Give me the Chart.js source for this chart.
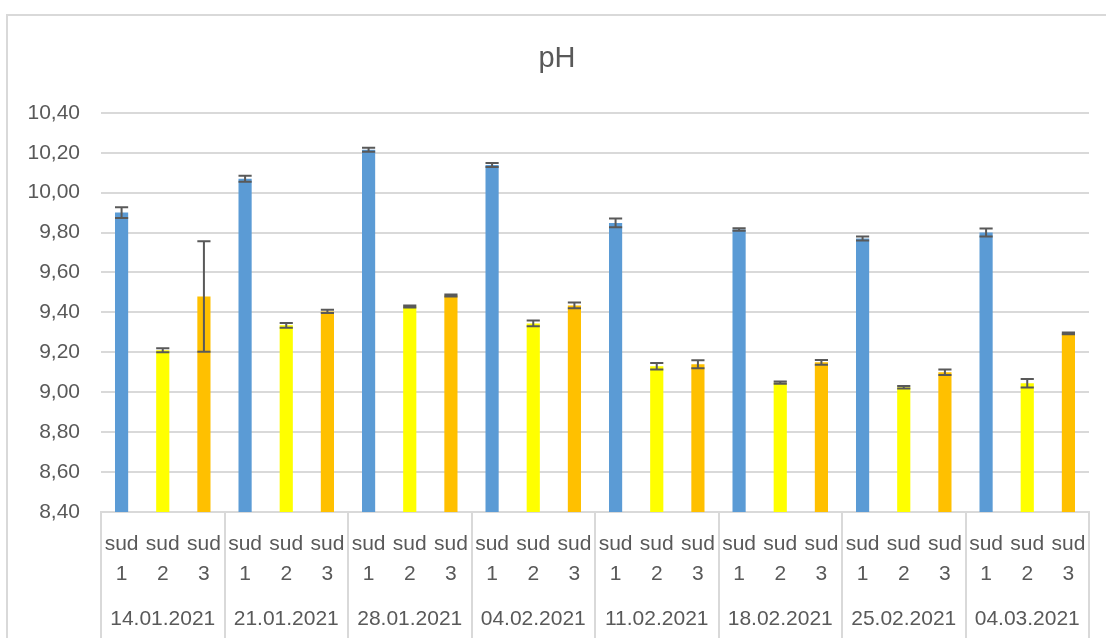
<!DOCTYPE html>
<html>
<head>
<meta charset="utf-8">
<script src="https://cdn.jsdelivr.net/npm/chart.js@4/dist/chart.umd.min.js"></script>
<style>
    html, body { margin: 0; padding: 0; background: #fff; overflow: hidden; }
    #wrap { width: 1122px; height: 638px; }
</style>
</head>
<body>
<div id="wrap"><canvas id="phChart" width="1122" height="638"></canvas></div>
<script>
// Data
const dates = ['14.01.2021', '21.01.2021', '28.01.2021', '04.02.2021', '11.02.2021', '18.02.2021', '25.02.2021', '04.03.2021'];
const sites = ['sud 1', 'sud 2', 'sud 3'];
const phValues = [
    9.90, 9.21, 9.48,
    10.07, 9.335, 9.405,
    10.215, 9.43, 9.485,
    10.138, 9.345, 9.435,
    9.848, 9.13, 9.14,
    9.815, 9.048, 9.15,
    9.77, 9.025, 9.10,
    9.80, 9.045, 9.295
];
const phErrors = [
    0.027, 0.010, 0.277,
    0.015, 0.012, 0.008,
    0.010, 0.005, 0.005,
    0.010, 0.015, 0.014,
    0.022, 0.016, 0.020,
    0.006, 0.006, 0.012,
    0.010, 0.006, 0.014,
    0.020, 0.021, 0.004
];
const siteColors = ['#5B9BD5', '#FFFF00', '#FFC000'];
const yMin = 8.4, yMax = 10.4, yStep = 0.2;

const labels = dates.flatMap(() => sites.map(s => s.split(' ')));
const barColors = dates.flatMap(() => siteColors);

const gridColor = '#d9d9d9';
const textColor = '#595959';
const fontFamily = '"Liberation Sans", Arial, sans-serif';

// Outer chart frame
const framePlugin = {
    id: 'frame',
    beforeDraw(chart) {
        const ctx = chart.ctx;
        ctx.save();
        ctx.strokeStyle = gridColor;
        ctx.lineWidth = 2;
        ctx.strokeRect(7, 15, chart.width + 20, chart.height + 20);
        ctx.restore();
    }
};

// Group separators under the category axis
const separatorPlugin = {
    id: 'separators',
    afterDraw(chart) {
        const xs = chart.scales.x;
        const ctx = chart.ctx;
        ctx.save();
        ctx.strokeStyle = gridColor;
        ctx.lineWidth = 2;
        for (let i = 0; i <= dates.length; i++) {
            const px = Math.round(xs.left + i * xs.width / dates.length);
            ctx.beginPath();
            ctx.moveTo(px, xs.top);
            ctx.lineTo(px, chart.height);
            ctx.stroke();
        }
        ctx.restore();
    }
};

// Error bars
const errorBarPlugin = {
    id: 'errorBars',
    afterDatasetsDraw(chart) {
        const ys = chart.scales.y;
        const meta = chart.getDatasetMeta(0);
        const ctx = chart.ctx;
        ctx.save();
        ctx.strokeStyle = textColor;
        ctx.lineWidth = 2;
        meta.data.forEach(function(bar, i) {
            const v = phValues[i], e = phErrors[i];
            const top = ys.getPixelForValue(v + e);
            const bot = ys.getPixelForValue(v - e);
            const half = bar.width / 2;
            ctx.beginPath();
            ctx.moveTo(bar.x, top);
            ctx.lineTo(bar.x, bot);
            ctx.moveTo(bar.x - half, top);
            ctx.lineTo(bar.x + half, top);
            ctx.moveTo(bar.x - half, bot);
            ctx.lineTo(bar.x + half, bot);
            ctx.stroke();
        });
        ctx.restore();
    }
};

new Chart(document.getElementById('phChart').getContext('2d'), {
    type: 'bar',
    data: {
        labels: labels,
        datasets: [{
            label: 'pH',
            data: phValues,
            backgroundColor: barColors,
            borderWidth: 0,
            categoryPercentage: 1,
            barPercentage: 0.32
        }]
    },
    options: {
        responsive: false,
        animation: false,
        layout: { padding: { top: 20, left: 25, right: 33, bottom: 0 } },
        plugins: {
            legend: { display: false },
            tooltip: { enabled: false },
            title: {
                display: true,
                text: 'pH',
                color: textColor,
                font: { family: fontFamily, size: 29, weight: 'normal' },
                padding: { top: 22, bottom: 36 }
            }
        },
        scales: {
            y: {
                min: yMin,
                max: yMax,
                afterFit(scale) { scale.width = 76; },
                ticks: {
                    stepSize: yStep,
                    color: textColor,
                    padding: 21,
                    font: { family: fontFamily, size: 21 },
                    callback: v => v.toFixed(2).replace('.', ',')
                },
                grid: { color: gridColor, lineWidth: 2, drawTicks: false },
                border: { display: false }
            },
            x: {
                weight: 0,
                afterFit(scale) { scale.height = 83; },
                ticks: {
                    color: textColor,
                    autoSkip: false,
                    maxRotation: 0,
                    padding: 10,
                    font: { family: fontFamily, size: 21, lineHeight: 1.4 }
                },
                grid: { display: false },
                border: { display: true, color: gridColor, width: 2 }
            },
            x2: {
                type: 'category',
                position: 'bottom',
                weight: 1,
                labels: dates,
                offset: true,
                afterFit(scale) { scale.height = 43; },
                ticks: {
                    color: textColor,
                    autoSkip: false,
                    maxRotation: 0,
                    padding: 2,
                    font: { family: fontFamily, size: 21, lineHeight: 1.4 }
                },
                grid: { display: false },
                border: { display: false }
            }
        }
    },
    plugins: [framePlugin, separatorPlugin, errorBarPlugin]
});
</script>
</body>
</html>
